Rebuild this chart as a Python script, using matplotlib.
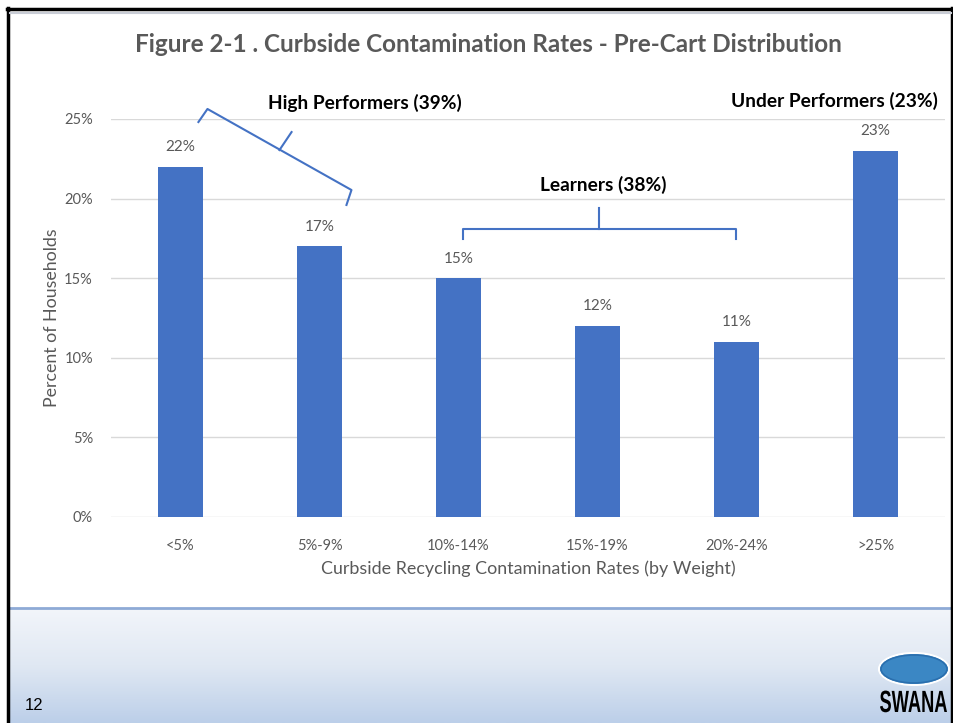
import numpy as np
import matplotlib
matplotlib.use("Agg")
import matplotlib.pyplot as plt
from matplotlib.patches import Ellipse, PathPatch
from matplotlib.textpath import TextPath
from matplotlib.font_manager import FontProperties
from matplotlib.transforms import Affine2D

# ---------------------------------------------------------------------------
# Datos
# ---------------------------------------------------------------------------
categorias = ["<5%", "5%-9%", "10%-14%", "15%-19%", "20%-24%", ">25%"]
porcentajes = [22, 17, 15, 12, 11, 23]
ticks_y = [0, 5, 10, 15, 20, 25]
grupos = ["High Performers (39%)", "Learners (38%)", "Under Performers (23%)"]

AZUL = "#4472c4"
GRIS = "#595959"
FUENTE = "Lato"

fig = plt.figure(figsize=(9.54, 7.23), dpi=100)

# ---------------------------------------------------------------------------
# Fondo de la diapositiva
# ---------------------------------------------------------------------------
bg = fig.add_axes([0, 0, 1, 1], zorder=-10)
bg.set_xlim(0, 954)
bg.set_ylim(723, 0)
bg.axis("off")
grad = np.linspace(0, 1, 100)[:, None]
bg.imshow(grad, extent=[10, 952, 723, 608], aspect="auto",
          cmap=matplotlib.colors.LinearSegmentedColormap.from_list(
              "cielo", ["#f2f5fa", "#e0e8f3", "#bccfe9"]))
bg.plot([10, 952], [608, 608], color="#8eaad6", lw=2)
bg.plot([8.5, 8.5], [8, 723], color="black", lw=2.5)
bg.plot([952, 952], [8, 723], color="black", lw=2.5)
bg.plot([7, 953.5], [9, 9], color="black", lw=2.5)
bg.plot([10, 951], [12.5, 12.5], color="#c9cdd6", lw=1.5)
bg.text(25, 706, "12", fontsize=12, family="Liberation Sans", va="center")

# Logo (globo + texto estrecho)
bg.add_patch(Ellipse((914, 669), 70, 32, facecolor="#3b87c4",
                     edgecolor="white", lw=1.5))
bg.add_patch(Ellipse((914, 669), 66, 28, facecolor="none",
                     edgecolor="#2a6fae", lw=1.2))
tp = TextPath((0, 0), "SWANA", size=30.7,
              prop=FontProperties(family="Liberation Sans", weight="bold"))
ext = tp.get_extents()
sx = 67 / ext.width
logo = Affine2D().translate(-ext.x0, 0).scale(sx, -1).translate(880, 712)
bg.add_patch(PathPatch(logo.transform_path(tp), facecolor="black", lw=0))

# ---------------------------------------------------------------------------
# Gráfico
# ---------------------------------------------------------------------------
ax = fig.add_axes([111 / 954, 1 - 517 / 723, 834 / 954, 398 / 723])
x = np.arange(len(categorias))
barras = ax.bar(x, porcentajes, width=0.32, color=AZUL, zorder=3)
for xi, v in zip(x, porcentajes):
    ax.annotate(f"{v}%", (xi, v), xytext=(0, 9), textcoords="offset points",
                ha="center", va="bottom", fontsize=11, color=GRIS, family=FUENTE)

ax.set_xlim(-0.5, len(categorias) - 0.5)
ax.set_ylim(0, 25)
ax.set_yticks(ticks_y)
ax.set_yticklabels([f"{t}%" for t in ticks_y])
ax.set_xticks(x)
ax.set_xticklabels(categorias)
ax.tick_params(length=0, labelsize=10.5, labelcolor=GRIS)
ax.tick_params(axis="x", pad=16)
ax.tick_params(axis="y", pad=13)
for lbl in ax.get_xticklabels() + ax.get_yticklabels():
    lbl.set_family(FUENTE)
ax.grid(axis="y", color="#d9d9d9", lw=1, zorder=0)
for s in ax.spines.values():
    s.set_visible(False)
ax.set_ylabel("Percent of Households", fontsize=12.8, color=GRIS, family=FUENTE,
              labelpad=3)
ax.set_xlabel("Curbside Recycling Contamination Rates (by Weight)", fontsize=12.9,
              color=GRIS, family=FUENTE, labelpad=5)

fig.text(488 / 954, 1 - 45 / 723,
         "Figure 2-1 . Curbside Contamination Rates - Pre-Cart Distribution",
         ha="center", va="center", fontsize=17.5, fontweight="bold", color=GRIS,
         family=FUENTE)

# Llaves de agrupación
kw = dict(color=AZUL, lw=1.5, clip_on=False, zorder=4)
ax.plot([0.129, 0.194, 1.230, 1.194], [24.81, 25.63, 20.54, 19.60], **kw)
ax.plot([0.712, 0.799], [23.05, 24.18], **kw)
ax.plot([2.029, 2.029, 4.0, 4.0], [17.46, 18.09, 18.09, 17.46], **kw)
ax.plot([3.014, 3.014], [18.09, 19.41], **kw)

tkw = dict(ha="center", va="center", fontsize=13.8, fontweight="bold",
           family=FUENTE, color="black", clip_on=False)
ax.text(1.324, 26.0, grupos[0], **tkw)
ax.text(3.043, 20.85, grupos[1], **tkw)
ax.text(4.705, 26.13, grupos[2], **tkw)

fig.savefig("out.png", dpi=100)
